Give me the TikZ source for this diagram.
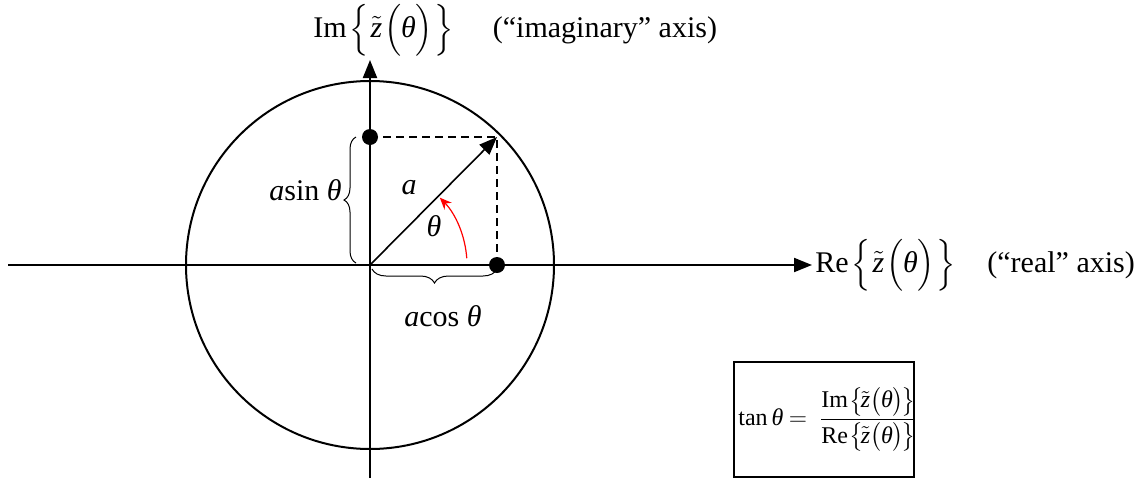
\documentclass[tikz,border=0pt]{standalone}
\usepackage{amsmath}
\usepackage{fontspec}
\setmainfont{Liberation Serif}
\usetikzlibrary{arrows.meta,decorations.pathreplacing}
\newcommand{\thI}{\mbox{\itshape θ}}
\newcommand{\zt}{\tilde{\mbox{\itshape z}}}
\newcommand{\zfun}{\mkern2mu\Bigl\{\mkern1mu\zt\mkern1mu\Bigl(\thI\Bigr)\mkern1mu\Bigr\}}
\newcommand{\zfunsmall}{\mkern1mu\bigl\{\mkern-2mu\zt\bigl(\thI\bigr)\mkern-2mu\bigr\}}
\begin{document}
\begin{tikzpicture}[x=0.5pt,y=0.5pt,
  axis/.style={line width=1pt,-{Triangle[length=9pt,width=7pt]}},
  dotmark/.style={circle,fill=black,inner sep=0pt,minimum size=8pt},
  lbl/.style={inner sep=0pt,font=\fontsize{15}{17}\selectfont},
  boxlbl/.style={inner sep=0pt,font=\fontsize{12}{14}\selectfont},
  bracestyle/.style={decorate,line width=0.5pt},
  dashline/.style={line width=0.8pt,dash pattern=on 4pt off 2.5pt}]
\useasboundingbox (0,0) rectangle (1148,479);
\coordinate (O) at (370,214);
\coordinate (xl) at (8,214);
\coordinate (xr) at (812,214);
\coordinate (yb) at (370,1);
\coordinate (yt) at (370,419);
\coordinate (P) at (497,342);
\node[dotmark] (dy) at (370,342) {};
\node[dotmark] (dx) at (497,214) {};
\draw[line width=1pt] (O) circle[radius=184];
\draw[axis] (xl) -- (xr);
\draw[axis] (yb) -- (yt);
\draw[dashline] (dy.center) -- (P) -- (dx.center);
\draw[line width=0.8pt,-{Triangle[length=9pt,width=7pt]}] (O) -- (P);
\draw[red,line width=0.6pt,-{Stealth[length=6pt,width=5pt]}] (O) ++(4:97) arc[start angle=4,end angle=44,radius=97];
\node[lbl] (la) at (409,291) {\textit{a}};
\node[lbl] (lt) at (434,253) {\textit{θ}};
\coordinate (b1s) at (356,216);
\coordinate (b1e) at (356,342);
\draw[bracestyle,decoration={brace,amplitude=6pt}] (b1s) -- (b1e);
\node[lbl,anchor=east] (ls) at (342,289) {\textit{a}sin \textit{θ}};
\coordinate (b2s) at (372,210);
\coordinate (b2e) at (497,210);
\draw[bracestyle,decoration={brace,mirror,amplitude=7pt}] (b2s) -- (b2e);
\node[lbl] (lc) at (443,163) {\textit{a}cos \textit{θ}};
\node[lbl,anchor=west] (ly) at (313,449) {Im$\zfun$\hspace{1.3em}(“imaginary” axis)};
\node[lbl,anchor=west] (lx) at (815,214) {Re$\zfun$\hspace{1.05em}(“real” axis)};
\node[draw,line width=1pt,minimum width=90pt,minimum height=57.5pt] (box) at (824,59.5) {};
\node[boxlbl] (eq) at ([xshift=2pt]box.center)
  {tan\,\textit{θ}$\:=\:\dfrac{\mbox{Im}\zfunsmall}{\mbox{Re}\zfunsmall}$};
\end{tikzpicture}
\end{document}
